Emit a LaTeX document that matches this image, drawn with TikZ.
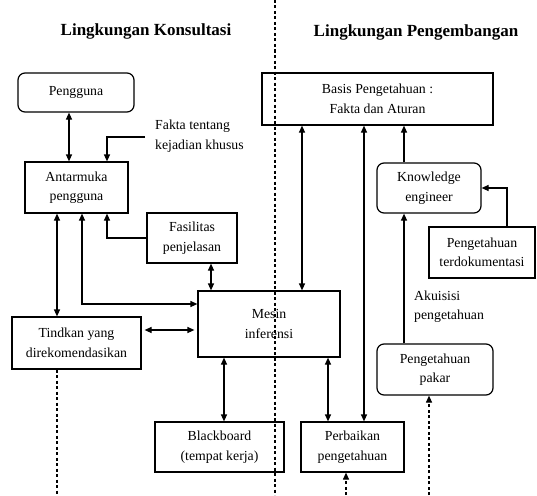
\documentclass[tikz,border=0pt]{standalone}
\usepackage{fontspec}
\setmainfont{Liberation Serif}
\usetikzlibrary{arrows.meta}
\begin{document}
\begin{tikzpicture}[x=1pt,y=-1pt,
  every node/.style={font=\fontsize{13.8}{19.5}\selectfont, align=center, inner sep=0pt},
  box/.style={draw, line width=1.2pt},
  rbox/.style={box, rounded corners=7pt},
  title/.style={font=\fontsize{17}{20}\selectfont\bfseries},
  lbl/.style={align=left, anchor=west},
  conn/.style={line width=1.2pt, {Triangle[length=7pt,width=6pt]}-{Triangle[length=7pt,width=6pt]}},
  uni/.style={line width=1.2pt, -{Triangle[length=7pt,width=6pt]}},
  dsh/.style={line width=1.1pt, dash pattern=on 3pt off 2.5pt}
]
\useasboundingbox (0,0) rectangle (537,495);

% titles
\node[title] (t1) at (146,31) {Lingkungan Konsultasi};
\node[title] (t2) at (416,32) {Lingkungan Pengembangan};

% divider
\coordinate (divtop) at (275,0);
\coordinate (divbot) at (275,495);
\draw[dsh] (divtop) -- (divbot);

% boxes
\node[rbox, minimum width=116pt, minimum height=39pt] (pengguna) at (76,92.5) {Pengguna};
\node[box, minimum width=103pt, minimum height=51pt] (antar) at (76.5,187.5) {Antarmuka\\pengguna};
\node[box, minimum width=90pt, minimum height=50pt] (fas) at (192,238) {Fasilitas\\penjelasan};
\node[box, minimum width=129pt, minimum height=52pt] (tind) at (76.5,343) {Tindkan yang\\direkomendasikan};
\node[box, minimum width=142pt, minimum height=66pt] (mesin) at (269,324) {Mesin\\inferensi};
\node[box, minimum width=129pt, minimum height=50pt] (black) at (219.5,447) {Blackboard\\(tempat kerja)};
\node[box, minimum width=103pt, minimum height=50pt] (perb) at (352.5,447) {Perbaikan\\pengetahuan};
\node[box, minimum width=231pt, minimum height=52pt] (basis) at (377.5,99) {Basis Pengetahuan :\\Fakta dan Aturan};
\node[rbox, minimum width=104pt, minimum height=50pt] (ke) at (429,188) {Knowledge\\engineer};
\node[box, minimum width=106pt, minimum height=51pt] (terdok) at (482,252.5) {Pengetahuan\\terdokumentasi};
\node[rbox, minimum width=116pt, minimum height=51pt] (pakar) at (435,369.5) {Pengetahuan\\pakar};

% labels
\node[lbl] (fakta) at (155,136) {Fakta tentang\\kejadian khusus};
\node[lbl] (akuisisi) at (414,306.5) {Akuisisi\\pengetahuan};

% lane coordinates
\coordinate (xA) at (57,0);
\coordinate (xB) at (82,0);
\coordinate (xC) at (107,0);
\coordinate (xD) at (69,0);
\coordinate (xE) at (211,0);
\coordinate (xF) at (224,0);
\coordinate (xG) at (302,0);
\coordinate (xH) at (328,0);
\coordinate (xI) at (364,0);
\coordinate (xJ) at (404,0);
\coordinate (xK) at (507,0);
\coordinate (xL) at (429,0);
\coordinate (xM) at (346,0);
\coordinate (yB) at (0,304);
\coordinate (yT) at (0,330);
\coordinate (fstart) at (145,137);
\coordinate (bot) at (0,495);

% connectors
\draw[conn] (xD |- pengguna.south) -- (xD |- antar.north);
\draw[uni] (fstart) -| (xC |- antar.north);
\draw[uni] (fas.west) -| (xC |- antar.south);
\draw[conn] (xA |- antar.south) -- (xA |- tind.north);
\draw[conn] (xB |- antar.south) |- (mesin.west |- yB);
\draw[conn, shorten <=3pt, shorten >=3pt] (tind.east |- yT) -- (mesin.west |- yT);
\draw[conn] (xE |- fas.south) -- (xE |- mesin.north);
\draw[conn] (xF |- mesin.south) -- (xF |- black.north);
\draw[conn] (xG |- basis.south) -- (xG |- mesin.north);
\draw[conn] (xH |- mesin.south) -- (xH |- perb.north);
\draw[conn] (xI |- basis.south) -- (xI |- perb.north);
\draw[uni] (xJ |- ke.north) -- (xJ |- basis.south);
\draw[uni] (xJ |- pakar.north) -- (xJ |- ke.south);
\draw[uni] (xK |- terdok.north) |- (ke.east);
\draw[dsh] (xA |- tind.south) -- (xA |- bot);
\draw[dsh, -{Triangle[length=7pt,width=6pt]}] (xL |- bot) -- (xL |- pakar.south);
\draw[dsh, -{Triangle[length=7pt,width=6pt]}] (xM |- bot) -- (xM |- perb.south);
\end{tikzpicture}
\end{document}
